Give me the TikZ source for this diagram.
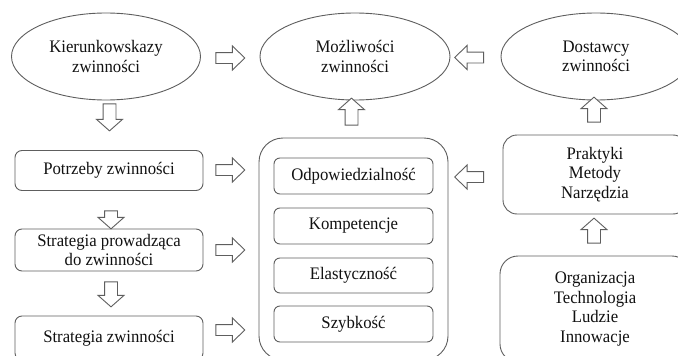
\documentclass[tikz,border=0pt]{standalone}
\usepackage{fontspec}
\setmainfont{Liberation Serif}[FakeStretch=0.95]
\usetikzlibrary{shapes.geometric,shapes.arrows}
\definecolor{linec}{HTML}{5E5E5E}
\definecolor{textc}{HTML}{111111}
\begin{document}
\begin{tikzpicture}[x=1pt,y=-1pt,
  every node/.style={text=textc,font=\fontsize{17.6}{19.5}\selectfont,align=center},
  oval/.style={ellipse,draw=linec,line width=0.9pt,inner sep=0pt},
  rbox/.style={rectangle,rounded corners=7pt,draw=linec,line width=0.9pt,inner sep=0pt},
  harrow/.style={single arrow,draw=linec,fill=white,line width=0.9pt,inner xsep=0pt,inner ysep=5pt,
    single arrow head extend=6.5pt,single arrow tip angle=88,minimum height=29pt},
  varrow/.style={single arrow,draw=linec,fill=white,line width=0.9pt,inner xsep=0pt,inner ysep=6pt,
    single arrow head extend=6.5pt,single arrow tip angle=97},
]
\useasboundingbox (0,0) rectangle (678,356);
\clip (0,0) rectangle (678,356);
\fill[white] (0,0) rectangle (678,356);

% ellipses
\node[oval,minimum width=189pt,minimum height=87pt] (kier) at (106,56.5) {Kierunkowskazy\\zwinności};
\node[oval,minimum width=190pt,minimum height=87pt] (mozl) at (355,56.5) {Możliwości\\zwinności};
\node[oval,minimum width=190pt,minimum height=87pt] (dost) at (596,56.5) {Dostawcy\\zwinności};

% left column
\node[rbox,minimum width=188pt,minimum height=40pt] (potr) at (109,170.5) {Potrzeby zwinności};
\node[rbox,minimum width=188pt,minimum height=42pt] (strp) at (109,250) {Strategia prowadząca\\do zwinności};
\node[rbox,minimum width=188pt,minimum height=44pt] (strz) at (109,338) {Strategia zwinności};

% central box
\node[rbox,rounded corners=24pt,minimum width=189pt,minimum height=222pt] (big) at (353.5,249) {};
\node[rbox,rounded corners=6pt,minimum width=159pt,minimum height=36pt] (odp) at (353.5,176) {Odpowiedzialność};
\node[rbox,rounded corners=6pt,minimum width=159pt,minimum height=36pt] (komp) at (353.5,226) {Kompetencje};
\node[rbox,rounded corners=6pt,minimum width=159pt,minimum height=35pt] (elast) at (353.5,275.5) {Elastyczność};
\node[rbox,rounded corners=6pt,minimum width=159pt,minimum height=36pt] (szyb) at (353.5,324) {Szybkość};

% right column
\node[rbox,rounded corners=14pt,minimum width=184pt,minimum height=79pt] (prak) at (595,174.5) {Praktyki\\Metody\\Narzędzia};
\node[rbox,rounded corners=18pt,minimum width=190pt,minimum height=106pt] (org) at (595,309) {Organizacja\\Technologia\\Ludzie\\Innowacje};

% block arrows
\node[harrow] (a1) at (227.5,58) {};
\node[harrow,rotate=180] (a2) at (472,57.5) {};
\node[harrow] (a8) at (227.5,170) {};
\node[harrow] (a9) at (227.5,250) {};
\node[harrow] (a10) at (227.5,330) {};
\node[harrow,rotate=180] (a11) at (472,177) {};

\node[varrow,rotate=-90,minimum height=27pt] (a3) at (109.5,114.5) {};
\node[varrow,rotate=-90,minimum height=18pt] (a6) at (111,217) {};
\node[varrow,rotate=-90,minimum height=25pt] (a7) at (111,291.5) {};
\node[varrow,rotate=90,minimum height=27pt] (a4) at (351.5,114.5) {};
\node[varrow,rotate=90,minimum height=25pt] (a5) at (594,112.5) {};
\node[varrow,rotate=90,minimum height=25pt] (a12) at (594,233.5) {};
\end{tikzpicture}
\end{document}
